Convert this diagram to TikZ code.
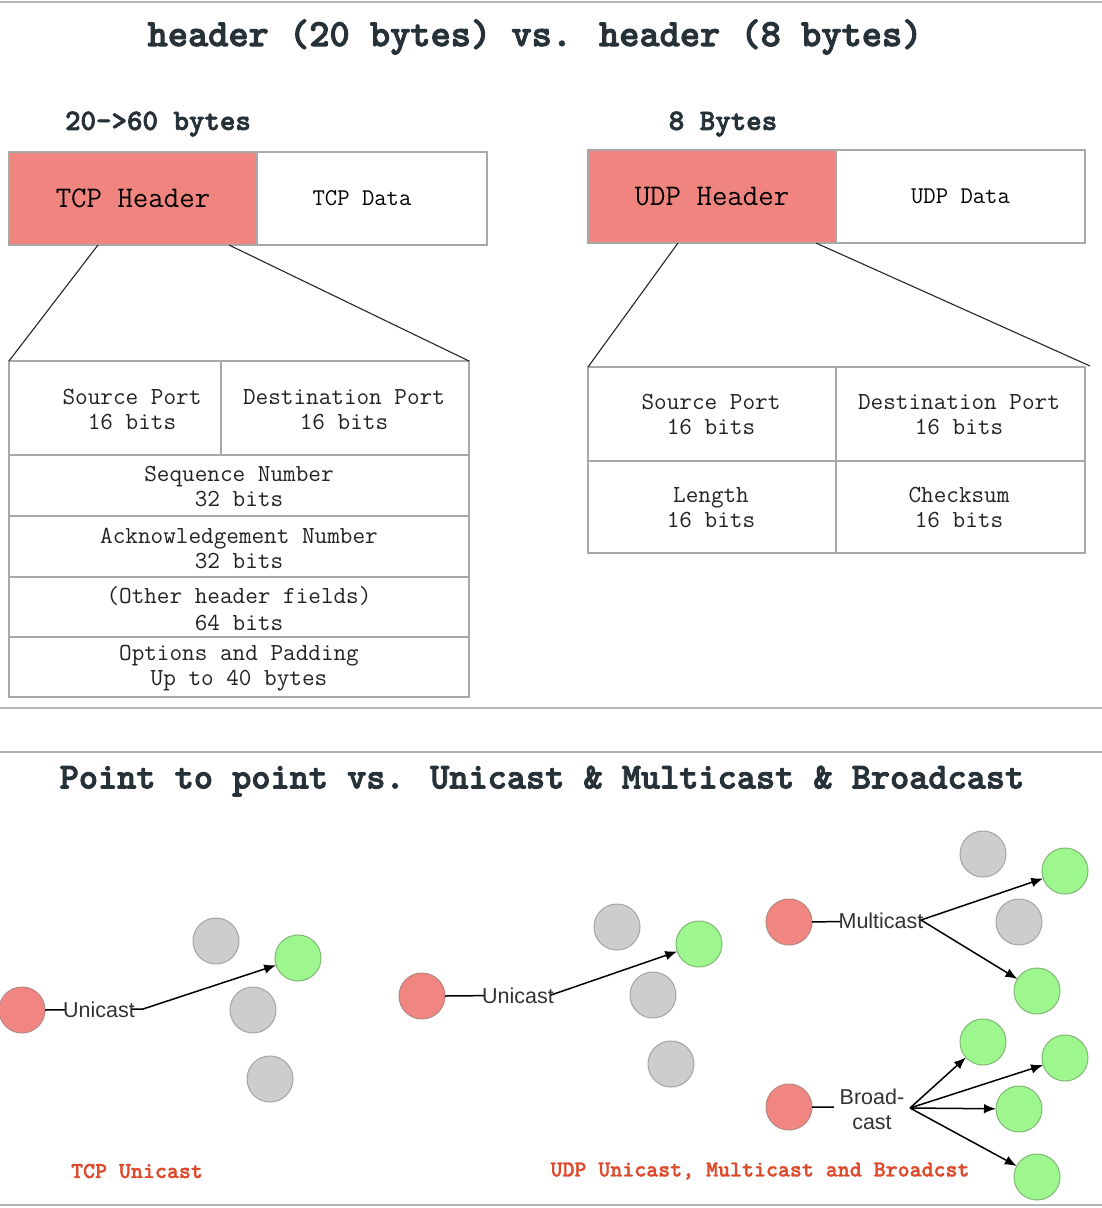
\documentclass[tikz,border=0pt]{standalone}
\usepackage{fontspec}
\newfontfamily\sansf{Liberation Sans}
\newfontfamily\monob[FakeBold=2.5]{lmmonolt10-bold.otf}
\newfontfamily\monoc[FakeBold=1.5]{lmmonolt10-bold.otf}
\usetikzlibrary{arrows.meta}
\definecolor{salmon}{HTML}{F0847F}
\definecolor{boxgray}{HTML}{A8A8A8}
\definecolor{sepgray}{HTML}{B4B4B4}
\definecolor{titlecol}{HTML}{263238}
\definecolor{tablecol}{HTML}{222222}
\definecolor{dotred}{HTML}{F08582}
\definecolor{dotredline}{HTML}{B88580}
\definecolor{dotgreen}{HTML}{9DF78E}
\definecolor{dotgreenline}{HTML}{7FB872}
\definecolor{dotgray}{HTML}{CDCDCD}
\definecolor{dotgrayline}{HTML}{A4A4A4}
\definecolor{capred}{HTML}{DD4A2C}
\definecolor{labtext}{HTML}{333333}
\begin{document}
\begin{tikzpicture}[x=1pt,y=-1pt,
  sepline/.style={draw=sepgray,line width=2pt},
  box/.style={draw=boxgray,line width=1.3pt,inner sep=0pt,outer sep=0pt,anchor=north west},
  hdrbox/.style={box,fill=salmon,font=\ttfamily\fontsize{30}{34}\selectfont},
  databox/.style={box,fill=white,font=\ttfamily\fontsize{24}{28}\selectfont},
  cell/.style={box},
  celltext/.style={align=center,inner sep=0pt,text=tablecol,font=\ttfamily\fontsize{24.5}{25}\selectfont},
  title/.style={text=titlecol,font=\monob\fontsize{38.5}{44}\selectfont},
  subtitle/.style={text=titlecol,font=\monob\fontsize{29.5}{34}\selectfont},
  caption/.style={text=capred,font=\monoc\fontsize{22.8}{26}\selectfont},
  zoomline/.style={draw=black!85,line width=1.1pt},
  dot/.style={circle,minimum size=46pt,inner sep=0pt,outer sep=0pt,line width=1pt},
  reddot/.style={dot,fill=dotred,draw=dotredline},
  greendot/.style={dot,fill=dotgreen,draw=dotgreenline},
  graydot/.style={dot,fill=dotgray,draw=dotgrayline},
  edgeline/.style={draw=black,line width=1.5pt},
  arr/.style={edgeline,-{Latex[length=12pt,width=9.5pt]}},
  elab/.style={fill=white,inner ysep=0pt,inner xsep=-3pt,text=labtext,font=\sansf\fontsize{21.5}{25}\selectfont}
]
\useasboundingbox (0,0) rectangle (1102,1208);
\fill[white] (0,0) rectangle (1102,1208);

% separators
\draw[sepline] (0,2) -- (1102,2);
\draw[sepline] (0,708) -- (1102,708);
\draw[sepline] (0,752) -- (1102,752);
\draw[sepline] (0,1205) -- (1102,1205);

% titles
\node[title] (t1) at (535,37) {header (20 bytes) vs. header (8 bytes)};
\node[subtitle] (st1) at (158,124) {20->60 bytes};
\node[subtitle] (st2) at (723,124) {8 Bytes};

% TCP segment
\node[hdrbox,minimum width=248pt,minimum height=93pt] (tcph) at (9,152) {TCP Header};
\node[databox,minimum width=230pt,minimum height=93pt] (tcpd) at (257,152) {TCP Data\hspace*{20pt}};

% TCP table
\node[cell,minimum width=212pt,minimum height=94pt] (tsp) at (9,361) {};
\node[cell,minimum width=248pt,minimum height=94pt] (tdp) at (221,361) {};
\node[cell,minimum width=460pt,minimum height=61pt] (tseq) at (9,455) {};
\node[cell,minimum width=460pt,minimum height=61pt] (tack) at (9,516) {};
\node[cell,minimum width=460pt,minimum height=60pt] (toth) at (9,577) {};
\node[cell,minimum width=460pt,minimum height=60pt] (topt) at (9,637) {};
\node[celltext] (tspt) at (132,410) {Source Port\\16 bits};
\node[celltext] (tdpt) at (344,410) {Destination Port\\16 bits};
\node[celltext] (tseqt) at (239,487) {Sequence Number\\32 bits};
\node[celltext] (tackt) at (239,548) {Acknowledgement Number\\32 bits};
\node[celltext,font=\ttfamily\fontsize{24.5}{27}\selectfont] (totht) at (239,609) {(Other header fields)\\64 bits};
\node[celltext] (toptt) at (239,668) {Options and Padding\\Up to 40 bytes};

\coordinate (tz1) at (98,245);
\coordinate (tz2) at (229,245);
\draw[zoomline] (tz1) -- (tsp.north west);
\draw[zoomline] (tz2) -- (tdp.north east);

% UDP segment
\node[hdrbox,minimum width=248pt,minimum height=93pt] (udph) at (588,150) {UDP Header};
\node[databox,minimum width=249pt,minimum height=93pt] (udpd) at (836,150) {UDP Data};

% UDP table
\node[cell,minimum width=248pt,minimum height=94pt] (usp) at (588,367) {};
\node[cell,minimum width=249pt,minimum height=94pt] (udp) at (836,367) {};
\node[cell,minimum width=248pt,minimum height=92pt] (ulen) at (588,461) {};
\node[cell,minimum width=249pt,minimum height=92pt] (uchk) at (836,461) {};
\node[celltext] (uspt) at (711,415) {Source Port\\16 bits};
\node[celltext] (udpt) at (959,415) {Destination Port\\16 bits};
\node[celltext] (ulent) at (711,508) {Length\\16 bits};
\node[celltext] (uchkt) at (959,508) {Checksum\\16 bits};

\coordinate (uz1) at (678,243);
\coordinate (uz2) at (816,243);
\coordinate (uz3) at (1090,366);
\draw[zoomline] (uz1) -- (usp.north west);
\draw[zoomline] (uz2) -- (uz3);

% second title
\node[title,font=\monob\fontsize{36.5}{42}\selectfont] (t2) at (542,781) {Point to point vs. Unicast \& Multicast \& Broadcast};

% TCP unicast
\node[reddot] (r1) at (22,1010) {};
\node[graydot] (a1) at (216,941) {};
\node[graydot] (a2) at (253,1010) {};
\node[graydot] (a3) at (270,1079) {};
\node[greendot] (g1) at (298,958) {};
\coordinate (w1) at (143,1009);
\draw[arr] (r1.east) -- (w1) -- (g1);
\node[elab] (l1) at (99,1010) {Unicast};

% UDP unicast
\node[reddot] (r2) at (422,996) {};
\node[graydot] (b1) at (617,927) {};
\node[graydot] (b2) at (653,995) {};
\node[graydot] (b3) at (671,1064) {};
\node[greendot] (g2) at (699,944) {};
\coordinate (w2) at (551,995);
\draw[arr] (r2.east) -- (w2) -- (g2);
\node[elab] (l2) at (518,996) {Unicast};

% Multicast
\node[reddot] (r3) at (789,922) {};
\node[graydot] (c1) at (983,854) {};
\node[graydot] (c2) at (1019,922) {};
\node[greendot] (gm1) at (1065,871) {};
\node[greendot] (gm2) at (1037,991) {};
\coordinate (w3) at (921,920);
\draw[edgeline] (r3.east) -- (w3);
\node[elab] (l3) at (881,921) {Multicast};
\draw[arr] (w3) -- (gm1);
\draw[arr] (w3) -- (gm2);

% Broadcast
\node[reddot] (r4) at (789,1107) {};
\node[greendot] (gb1) at (983,1042) {};
\node[greendot] (gb2) at (1065,1058) {};
\node[greendot] (gb3) at (1019,1109) {};
\node[greendot] (gb4) at (1037,1177) {};
\coordinate (w4) at (910,1108);
\draw[edgeline] (r4.east) -- (w4);
\node[elab,align=center,inner xsep=6pt,inner ysep=2pt] (l4) at (872,1109) {Broad-\\cast};
\draw[arr] (w4) -- (gb1);
\draw[arr] (w4) -- (gb2);
\draw[arr] (w4) -- (gb3);
\draw[arr] (w4) -- (gb4);

% captions
\node[caption] (c1t) at (137,1171) {TCP Unicast};
\node[caption] (c2t) at (760,1171) {UDP Unicast, Multicast and Broadcst};
\end{tikzpicture}
\end{document}
